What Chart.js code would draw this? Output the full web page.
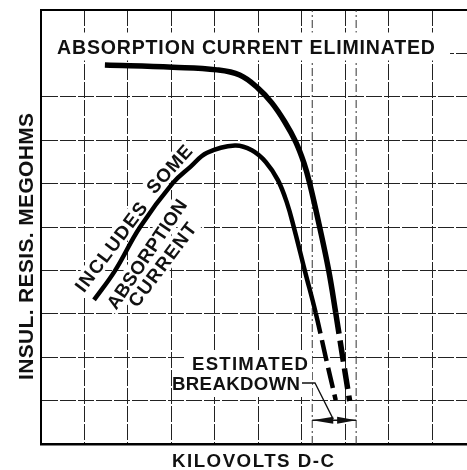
<!DOCTYPE html>
<html><head><meta charset="utf-8">
<script src="https://cdn.jsdelivr.net/npm/chart.js@4.4.1/dist/chart.umd.min.js"></script>
<style>html,body{margin:0;padding:0;background:#fff;overflow:hidden}canvas{display:block}</style>
</head><body>
<canvas id="c" width="467" height="470"></canvas>
<script>
// ---- data (kilovolts d-c, insulation resistance in grid units) ----
const voltsA = [1.47, 3.03, 4.05, 4.57, 4.99, 5.31, 5.61, 5.86, 6.05, 6.18, 6.41, 6.62, 6.78, 6.94, 7.10];
const resA   = [8.73, 8.68, 8.62, 8.50, 8.20, 7.86, 7.42, 6.96, 6.47, 6.01, 5.00, 3.99, 3.02, 2.00, 0.99];
const estStartA = 12;   // from this point on the curve is estimated (dashed)
const voltsB = [1.22, 1.70, 2.28, 3.03, 3.43, 3.82, 4.46, 4.85, 5.17, 5.45, 5.66, 5.82, 6.07, 6.32, 6.55, 6.78];
const resB   = [3.32, 3.99, 5.00, 6.01, 6.38, 6.71, 6.88, 6.77, 6.50, 6.08, 5.55, 4.98, 3.99, 3.02, 2.00, 1.01];
const estStartB = 13;
const breakdownVolts = [6.24, 7.25];
const xGrid = [0, 1, 2, 3, 4, 5, 6, 7, 8, 9];
const yGrid = [0, 1, 2, 3, 4, 5, 6, 7, 8, 9];
const xTitle = 'KILOVOLTS D-C';
const yTitle = 'INSUL. RESIS. MEGOHMS';
const labelA = 'ABSORPTION CURRENT ELIMINATED';
const labelB = ['INCLUDES', 'SOME', 'ABSORPTION', 'CURRENT'];
const labelBreak = ['ESTIMATED', 'BREAKDOWN'];

const pts = (xs, ys) => xs.map((x, i) => ({x, y: ys[i]}));
const FONT = '"Liberation Sans", Arial, sans-serif';

function fitText(ctx, s, cx, cy, w, capH, angDeg, box) {
  ctx.save();
  ctx.translate(cx, cy);
  ctx.rotate(angDeg * Math.PI / 180);
  const fs = capH / 0.716;
  ctx.font = 'bold ' + fs.toFixed(2) + 'px ' + FONT;
  if ('letterSpacing' in ctx) ctx.letterSpacing = '0px';
  const w0 = ctx.measureText(s).width;
  if ('letterSpacing' in ctx && s.length > 1) ctx.letterSpacing = ((w - w0) / (s.length - 1)).toFixed(2) + 'px';
  if (box) {
    ctx.fillStyle = '#fff';
    ctx.fillRect(-w / 2 - box[0], -capH / 2 - box[1], w + 2 * box[0], capH + 2 * box[1]);
  } else {
    ctx.fillStyle = '#111';
    ctx.textAlign = 'left';
    ctx.textBaseline = 'alphabetic';
    ctx.fillText(s, -w / 2, capH / 2);
  }
  ctx.restore();
}

const texts = [
  {s: labelA,        cx: 246,   cy: 46.5,  w: 378, h: 14,   a: 0,     box: [15, 7]},
  {s: labelB[0],     cx: 110.8, cy: 246.7, w: 107, h: 13.5, a: -53,   box: [3, 3]},
  {s: labelB[1],     cx: 169,   cy: 169,   w: 58,  h: 13.5, a: -48,   box: [3, 3]},
  {s: labelB[2],     cx: 146.5, cy: 254,   w: 128, h: 13.5, a: -56,   box: [3, 3]},
  {s: labelB[3],     cx: 162,   cy: 264.5, w: 100, h: 13.5, a: -53,   box: [3, 3]},
  {s: labelBreak[0], cx: 250,   cy: 363.3, w: 116, h: 13.3, a: 0,     box: null},
  {s: labelBreak[1], cx: 236,   cy: 383.3, w: 128, h: 13.3, a: 0,     box: null},
  {s: xTitle,        cx: 253,   cy: 460,   w: 162, h: 13.4, a: 0,     box: null},
  {s: yTitle,        cx: 25.8,  cy: 246.5, w: 267, h: 15,   a: -90,   box: null}
];

let boxesDone = false;
const annot = {
  id: 'annot',
  beforeDraw() { boxesDone = false; },
  beforeDatasetDraw(chart, args) {
    if (boxesDone || !chart.data.datasets[args.index].curve) return;
    boxesDone = true;
    const ctx = chart.ctx;
    texts.forEach(t => { if (t.box) fitText(ctx, t.s, t.cx, t.cy, t.w, t.h, t.a, t.box); });
    ctx.save();
    ctx.fillStyle = '#fff';
    ctx.fillRect(186, 350, 126, 47);
    ctx.restore();
  },
  afterDatasetsDraw(chart) {
    const ctx = chart.ctx;
    texts.forEach(t => fitText(ctx, t.s, t.cx, t.cy, t.w, t.h, t.a, null));
    // dimension arrows between the two estimated breakdown voltages
    const xs = chart.scales.x, ys = chart.scales.y;
    const x1 = xs.getPixelForValue(breakdownVolts[0]);
    const x2 = xs.getPixelForValue(breakdownVolts[1]);
    const y = ys.getPixelForValue(0.55);
    const mid = (x1 + x2) / 2 - 1;
    ctx.save();
    ctx.strokeStyle = '#111'; ctx.fillStyle = '#111';
    ctx.lineWidth = 1.5;
    ctx.beginPath(); ctx.moveTo(x1, y); ctx.lineTo(x2, y); ctx.stroke();
    ctx.beginPath(); ctx.moveTo(x1, y); ctx.lineTo(x1 + 21, y - 3.5); ctx.lineTo(x1 + 21, y + 3.5); ctx.closePath(); ctx.fill();
    ctx.beginPath(); ctx.moveTo(x2, y); ctx.lineTo(x2 - 19, y - 3.5); ctx.lineTo(x2 - 19, y + 3.5); ctx.closePath(); ctx.fill();
    // leader from label
    ctx.lineWidth = 1.3;
    ctx.beginPath(); ctx.moveTo(302, 383); ctx.lineTo(315, 383); ctx.lineTo(mid, y - 1); ctx.stroke();
    ctx.restore();
  }
};

const gridOpts = {color: '#222', lineWidth: 1, drawTicks: false};
const dashFor = (start) => (c) => (c.p0DataIndex >= start ? [21, 7] : undefined);

new Chart(document.getElementById('c'), {
  type: 'line',
  data: {
    datasets: [
      {data: pts([breakdownVolts[0], breakdownVolts[0]], [0, 10]), borderColor: '#333', borderWidth: 1,
       borderDash: [8, 3, 2, 3], pointRadius: 0, order: 5},
      {data: pts([breakdownVolts[1], breakdownVolts[1]], [0, 10]), borderColor: '#333', borderWidth: 1,
       borderDash: [8, 3, 2, 3], pointRadius: 0, order: 5},
      {data: pts(voltsA, resA), curve: true, borderColor: '#000', borderWidth: 5.5, pointRadius: 0,
       tension: 0.4, borderCapStyle: 'butt', order: 1,
       segment: {borderDash: dashFor(estStartA)}},
      {data: pts(voltsB, resB), curve: true, borderColor: '#000', borderWidth: 4.5, pointRadius: 0,
       tension: 0.4, borderCapStyle: 'butt', order: 1,
       segment: {borderDash: dashFor(estStartB)}}
    ]
  },
  options: {
    responsive: false,
    animation: false,
    events: [],
    layout: {padding: {left: 41, top: 10, right: 0, bottom: 26}},
    plugins: {legend: {display: false}, tooltip: {enabled: false}, title: {display: false}},
    scales: {
      x: {
        type: 'linear', min: 0, max: 9.8,
        afterBuildTicks: s => { s.ticks = xGrid.map(v => ({value: v})); },
        ticks: {display: false},
        grid: gridOpts,
        border: {display: true, color: '#000', width: 2.5, dash: [16, 2]}
      },
      xTop: {
        type: 'linear', position: 'top', min: 0, max: 9.8,
        ticks: {display: false},
        grid: {display: false, drawTicks: false},
        border: {display: true, color: '#000', width: 2}
      },
      y: {
        type: 'linear', min: 0, max: 10,
        afterBuildTicks: s => { s.ticks = yGrid.map(v => ({value: v})); },
        ticks: {display: false},
        grid: gridOpts,
        border: {display: true, color: '#000', width: 2, dash: [16, 2]}
      }
    }
  },
  plugins: [annot]
});
</script>
</body></html>
